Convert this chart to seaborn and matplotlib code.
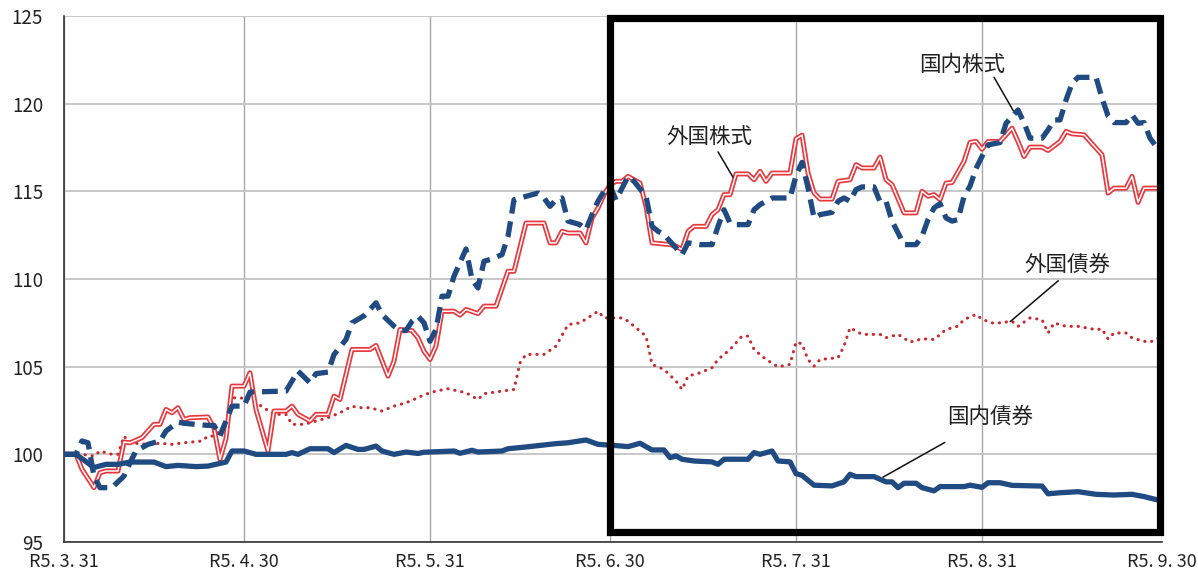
import matplotlib
matplotlib.use("Agg")
import matplotlib.pyplot as plt
import seaborn as sns
import pandas as pd
from matplotlib.patches import Rectangle

# ---- data (day offsets from R5.3.31) ----
tick_days = [0, 30, 61, 91, 122, 153, 183]
tick_labels = ["R5. 3. 31", "R5. 4. 30", "R5. 5. 31", "R5. 6. 30",
               "R5. 7. 31", "R5. 8. 31", "R5. 9. 30"]

jp_bond_day = [0, 2, 5, 7, 9, 11, 15, 17, 19, 22, 24, 27, 28, 30, 32, 37, 38, 39,
               41, 44, 45, 47, 49, 50, 52, 53, 55, 57, 59, 60, 65, 66, 68, 69, 73,
               74, 77, 82, 84, 87, 89, 92, 94, 96, 98, 100, 101, 102, 103, 105, 108,
               109, 110, 114, 115, 116, 118, 119, 121, 122, 123, 125, 128, 130, 131,
               132, 135, 137, 138, 139, 140, 142, 143, 145, 146, 150, 151, 153, 154,
               156, 158, 163, 164, 166, 169, 172, 175, 178, 180, 183]
jp_bond_val = [100.0, 100.0, 99.25, 99.43, 99.43, 99.56, 99.56, 99.3, 99.37, 99.3,
               99.33, 99.56, 100.19, 100.19, 100.0, 100.0, 100.1, 100.0, 100.32,
               100.32, 100.1, 100.51, 100.28, 100.28, 100.47, 100.19, 100.0, 100.13,
               100.05, 100.12, 100.19, 100.06, 100.23, 100.13, 100.19, 100.32,
               100.42, 100.61, 100.66, 100.82, 100.57, 100.5, 100.44, 100.63,
               100.25, 100.25, 99.81, 99.91, 99.72, 99.62, 99.57, 99.43, 99.72,
               99.72, 100.1, 100.0, 100.19, 99.62, 99.57, 98.9, 98.8, 98.24, 98.2,
               98.43, 98.86, 98.73, 98.73, 98.43, 98.43, 98.1, 98.35, 98.35, 98.1,
               97.92, 98.16, 98.16, 98.24, 98.12, 98.38, 98.38, 98.23, 98.19, 97.75,
               97.81, 97.87, 97.72, 97.68, 97.72, 97.59, 97.34]

jp_stock_day = [0, 2, 3, 4, 5, 6, 8, 10, 11, 12, 14, 16, 17, 19, 20, 24, 25, 26, 28,
                30, 31, 37, 39, 41, 42, 44, 45, 47, 48, 50, 52, 53, 55, 56, 57, 58,
                59, 60, 61, 62, 63, 64, 65, 67, 68, 69, 70, 71, 73, 74, 75, 76, 79,
                80, 81, 82, 83, 84, 86, 87, 88, 89, 90, 91, 92, 94, 95, 97, 98, 99,
                100, 102, 103, 104, 106, 108, 109, 110, 111, 112, 114, 115, 116, 118,
                121, 122, 123, 124, 125, 126, 128, 129, 130, 131, 132, 133, 135, 136,
                137, 138, 139, 140, 142, 143, 144, 145, 146, 147, 148, 149, 150, 151,
                152, 153, 154, 156, 157, 159, 160, 161, 163, 164, 165, 166, 167, 168,
                169, 172, 173, 174, 175, 177, 178, 179, 180, 181, 183]
jp_stock_val = [100.0, 100.0, 100.76, 100.66, 98.76, 98.1, 98.1, 98.76, 99.52,
                100.19, 100.57, 100.76, 101.33, 101.84, 101.77, 101.65, 101.65,
                101.05, 102.75, 102.75, 103.55, 103.61, 104.75, 104.08, 104.6,
                104.69, 105.69, 106.55, 107.5, 107.9, 108.64, 107.97, 107.31, 107.06,
                107.06, 107.59, 107.88, 107.5, 106.45, 107.12, 109.02, 109.02,
                110.16, 111.71, 109.97, 109.49, 111.01, 111.11, 111.39, 112.43,
                114.52, 114.62, 114.9, 114.62, 114.14, 114.52, 114.62, 113.3, 113.1,
                112.81, 113.67, 114.43, 115.0, 115.3, 114.5, 115.85, 115.57, 114.71,
                113.0, 112.72, 112.53, 111.77, 111.39, 112.06, 111.96, 111.96, 113.0,
                113.95, 113.19, 113.1, 113.1, 113.95, 114.24, 114.62, 114.62, 115.9,
                116.65, 115.2, 113.48, 113.67, 113.8, 114.43, 114.62, 114.43, 115.1,
                115.25, 115.25, 114.4, 114.43, 113.3, 112.63, 111.96, 111.96, 112.44,
                113.39, 114.05, 114.3, 113.48, 113.3, 113.39, 114.72, 115.3, 116.3,
                117.0, 117.65, 117.78, 118.88, 119.64, 118.9, 118.03, 118.03, 118.5,
                119.07, 119.07, 120.21, 121.16, 121.5, 121.5, 120.3, 119.3, 118.92,
                118.92, 119.36, 118.88, 118.92, 118.03, 117.1]

fx_stock_day = [0, 2, 3, 5, 6, 7, 9, 10, 11, 13, 15, 16, 17, 18, 19, 20, 21, 24, 25,
                26, 27, 28, 30, 31, 32, 34, 35, 37, 38, 39, 41, 42, 44, 45, 46, 48,
                51, 52, 54, 55, 56, 58, 59, 60, 61, 62, 63, 65, 66, 67, 69, 70, 72,
                74, 75, 77, 80, 81, 82, 83, 84, 86, 87, 88, 89, 90, 91, 92, 93, 94,
                96, 97, 98, 101, 102, 103, 104, 105, 107, 108, 109, 110, 111, 112,
                114, 115, 116, 117, 118, 121, 122, 123, 124, 125, 126, 128, 129, 131,
                132, 133, 135, 136, 137, 138, 140, 142, 143, 144, 145, 146, 147, 148,
                150, 151, 152, 153, 154, 156, 158, 159, 160, 161, 163, 164, 166, 167,
                168, 170, 171, 173, 174, 175, 177, 178, 179, 180, 183]
fx_stock_val = [100.0, 100.0, 99.15, 98.1, 98.95, 99.05, 99.05, 100.7, 100.66,
                100.95, 101.71, 101.71, 102.56, 102.37, 102.66, 101.99, 102.09,
                102.13, 101.5, 99.71, 100.9, 103.89, 103.89, 104.65, 102.56, 100.19,
                102.47, 102.47, 102.75, 102.28, 101.9, 102.28, 102.28, 103.32,
                103.13, 105.98, 105.98, 106.21, 104.46, 105.32, 107.12, 107.06,
                106.64, 105.88, 105.41, 106.17, 108.16, 108.16, 107.94, 108.26,
                108.03, 108.45, 108.45, 110.44, 110.44, 113.19, 113.19, 112.06,
                112.06, 112.72, 112.62, 112.62, 112.06, 113.48, 114.05, 114.81,
                115.38, 115.57, 115.57, 115.85, 115.47, 114.14, 112.06, 111.96,
                111.87, 111.68, 112.72, 113.0, 113.0, 113.67, 113.95, 114.81, 114.81,
                115.99, 115.99, 115.66, 116.14, 115.57, 116.04, 116.04, 118.0, 118.2,
                116.04, 114.91, 114.56, 114.56, 115.57, 115.66, 116.52, 116.33,
                116.33, 116.95, 115.66, 115.38, 113.77, 113.77, 115.0, 114.72,
                114.81, 114.53, 115.47, 115.5, 116.71, 117.79, 117.85, 117.4, 117.84,
                117.84, 118.6, 117.84, 116.99, 117.52, 117.52, 117.33, 117.84,
                118.41, 118.28, 118.22, 117.84, 117.08, 114.9, 115.18, 115.18,
                115.85, 114.37, 115.18, 115.18]

fx_bond_day = [0, 3, 5, 6, 8, 9, 10, 11, 14, 16, 18, 20, 23, 24, 25, 27, 28, 30, 31,
               35, 37, 38, 40, 43, 44, 46, 48, 49, 51, 53, 55, 57, 59, 60, 62, 64,
               67, 69, 70, 75, 76, 77, 80, 82, 84, 86, 89, 90, 93, 94, 95, 97, 98,
               100, 102, 103, 104, 106, 108, 109, 111, 113, 114, 115, 117, 119, 121,
               122, 123, 124, 125, 126, 129, 130, 131, 133, 136, 137, 139, 141, 143,
               145, 147, 149, 150, 152, 153, 155, 158, 159, 161, 163, 164, 165, 167,
               169, 172, 173, 174, 175, 177, 178, 180, 181, 183]
fx_bond_val = [100.0, 100.0, 99.9, 100.19, 100.0, 100.0, 101.04, 100.66, 100.57,
               100.63, 100.57, 100.66, 100.76, 101.04, 101.04, 101.6, 103.23, 103.2,
               103.17, 102.28, 102.28, 101.71, 101.71, 101.99, 102.09, 102.37,
               102.75, 102.66, 102.66, 102.47, 102.75, 102.94, 103.23, 103.4,
               103.61, 103.74, 103.51, 103.13, 103.46, 103.7, 105.22, 105.7, 105.7,
               106.17, 107.4, 107.5, 108.16, 107.78, 107.78, 107.6, 107.31, 106.74,
               105.13, 104.84, 104.18, 103.7, 104.46, 104.65, 104.94, 105.41,
               105.98, 106.74, 106.74, 105.98, 105.41, 104.99, 105.13, 106.4, 106.3,
               105.4, 105.03, 105.41, 105.51, 106.17, 107.22, 106.84, 106.84,
               106.65, 106.84, 106.4, 106.59, 106.55, 107.12, 107.31, 107.69,
               107.98, 107.7, 107.46, 107.59, 107.3, 107.78, 107.68, 106.92, 107.49,
               107.3, 107.3, 107.11, 107.15, 106.58, 106.92, 106.92, 106.64, 106.45,
               106.4, 106.73]

y_ticks = [95, 100, 105, 110, 115, 120, 125]

# ---- style ----
NAVY = "#1f4a82"
RED = "#e8383d"
DRED = "#c8282e"
FONT = ["Noto Sans CJK JP", "DejaVu Sans"]

sns.set_theme(style="white")
plt.rcParams["font.family"] = FONT

fig = plt.figure(figsize=(11.98, 5.76), dpi=100)
ax = fig.add_axes([0.0534, 0.0590, 0.9166, 0.9133])

df_jb = pd.DataFrame({"day": jp_bond_day, "val": jp_bond_val})
df_js = pd.DataFrame({"day": jp_stock_day, "val": jp_stock_val})
df_fs = pd.DataFrame({"day": fx_stock_day, "val": fx_stock_val})
df_fb = pd.DataFrame({"day": fx_bond_day, "val": fx_bond_val})

sns.lineplot(data=df_fb, x="day", y="val", ax=ax, color=DRED, lw=2.2,
             linestyle=(0, (0.1, 2.2)), dash_capstyle="round", zorder=3)
sns.lineplot(data=df_fs, x="day", y="val", ax=ax, color=RED, lw=3.6, zorder=4)
sns.lineplot(data=df_fs, x="day", y="val", ax=ax, color="white", lw=1.1, zorder=4.1)
sns.lineplot(data=df_js, x="day", y="val", ax=ax, color=NAVY, lw=3.8,
             linestyle=(0, (3.0, 1.5)), zorder=5)
sns.lineplot(data=df_jb, x="day", y="val", ax=ax, color=NAVY, lw=3.8, zorder=6)

ax.set_xlim(0, 183)
ax.set_ylim(95, 125)
ax.set_xticks(tick_days)
ax.set_xticklabels(tick_labels, fontsize=13, family=FONT)
ax.set_yticks(y_ticks)
ax.set_yticklabels([str(v) for v in y_ticks], fontsize=13.5, family=FONT)
ax.set_xlabel("")
ax.set_ylabel("")

ax.grid(axis="y", color="#c4c4c4", lw=1.3, zorder=0)
ax.grid(axis="x", color="#a8a8a8", lw=1.0, zorder=0)
ax.set_axisbelow(True)
for s in ["top", "right"]:
    ax.spines[s].set_visible(False)
ax.spines["left"].set_color("#333333")
ax.spines["bottom"].set_color("#333333")
ax.spines["left"].set_linewidth(1.2)
ax.spines["bottom"].set_linewidth(1.2)
ax.tick_params(axis="x", direction="inout", length=6, width=1, color="#333333",
               pad=5, labelcolor="#222222")
ax.tick_params(axis="y", length=0, pad=15, labelcolor="#222222")

# highlight box
ax.add_patch(Rectangle((91, 95.56), 91.7, 29.34, fill=False, ec="black",
                       lw=5.2, zorder=8, clip_on=False))

# annotations
def label(text, tx, ty, x0, y0, x1, y1):
    ax.text(tx, ty, text, fontsize=15.5, ha="center", va="center",
            family=FONT, color="#222222", zorder=9)
    ax.plot([x0, x1], [y0, y1], color="#111111", lw=1.1, zorder=9)

label("外国株式", 107.5, 118.1, 109.0, 117.25, 111.5, 115.8)
label("国内株式", 149.7, 122.2, 155.0, 121.5, 158.2, 119.6)
label("外国債券", 167.2, 110.8, 165.7, 109.9, 157.7, 107.57)
label("国内債券", 154.3, 102.15, 146.8, 100.68, 136.5, 98.7)

fig.savefig("out.png", dpi=100)
